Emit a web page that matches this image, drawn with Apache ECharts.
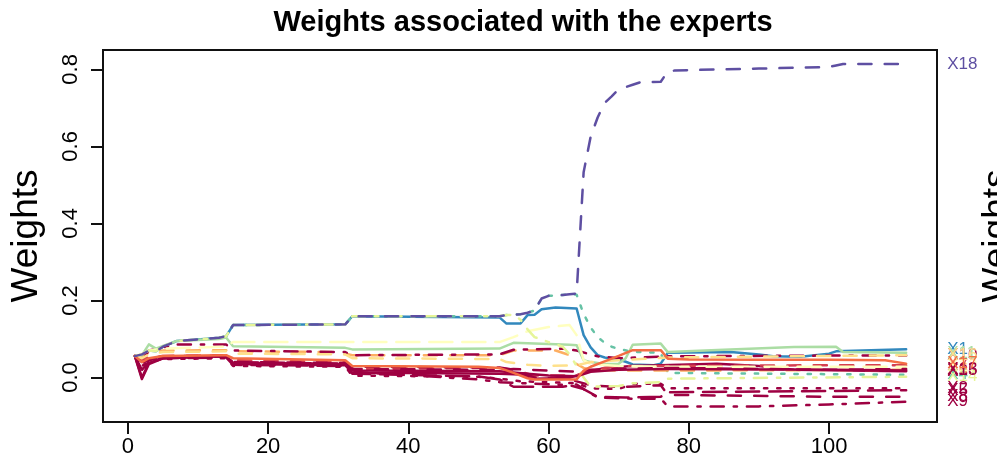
<!DOCTYPE html>
<html>
<head>
<meta charset="utf-8">
<script src="https://cdn.jsdelivr.net/npm/echarts@6/dist/echarts.min.js"></script>
<style>
  html, body { margin: 0; padding: 0; background: #ffffff; }
  #chart { width: 997px; height: 469px; }
</style>
</head>
<body>
<div id="chart"></div>
<script>
// Axis ticks
const xTicks = [0, 20, 40, 60, 80, 100];
const yTicks = [0, 0.2, 0.4, 0.6, 0.8];

// Expert weights over time: [t, weight] at the points where each path bends
const X1 = [[1,.0556],[2,.06],[3,.07],[4,.068],[5,.08],[7,.095],[10,.099],[13,.103],[14,.107],[15,.136],[31,.138],[32,.159],[53,.156],[54,.14],[56,.14],[57,.162],[58,.163],[59,.177],[61,.182],[64,.179],[65,.11],[66,.078],[67,.058],[68,.052],[69,.049],[70,.046],[71,.041],[72,.034],[75,.032],[76,.036],[77,.064],[86,.066],[90,.06],[92,.055],[96,.054],[100,.062],[101,.068],[111,.0735]];
const X2 = [[1,.0556],[2,.03],[3,.04],[5,.048],[14,.05],[15,.03],[31,.028],[32,.005],[50,.002],[53,-.003],[56,-.01],[60,-.012],[64,-.015],[66,-.028],[70,-.03],[72,-.016],[76,-.016],[77,-.028],[111,-.028]];
const X3 = [[1,.0556],[2,-.004],[3,.035],[5,.05],[10,.055],[14,.056],[15,.035],[31,.032],[32,.012],[40,.012],[53,.01],[56,.008],[58,-.003],[63,-.001],[65,.012],[68,.025],[72,.03],[84,.036],[90,.03],[95,.02],[111,.016]];
const X4 = [[1,.0556],[2,.06],[3,.07],[4,.068],[5,.08],[7,.095],[10,.099],[13,.103],[14,.107],[15,.136],[31,.138],[32,.159],[53,.159],[54,.162],[56,.164],[57,.168],[58,.174],[59,.205],[60,.212],[62,.214],[63,.216],[64,.215],[65,.165],[66,.13],[67,.105],[68,.09],[69,.08],[70,.074],[72,.067],[76,.064],[77,.012],[111,.007]];
const X5 = [[1,.0556],[2,.02],[3,.04],[5,.05],[14,.052],[15,.033],[31,.03],[32,.01],[50,.003],[53,-.005],[55,-.024],[62,-.024],[64,-.018],[65,-.03],[67,-.05],[71,-.052],[76,-.05],[77,-.038],[100,-.035],[111,-.033]];
const X6 = [[1,.0556],[2,.055],[3,.064],[5,.07],[14,.071],[15,.068],[30,.066],[32,.058],[53,.058],[55,.07],[61,.07],[63,.058],[64,.035],[65,.025],[66,.02],[70,.018],[77,.018],[111,.02]];
const X7 = [[1,.0556],[2,.048],[3,.052],[5,.056],[14,.058],[15,.045],[31,.04],[32,.022],[53,.025],[55,.02],[58,.005],[64,.005],[66,.02],[70,.03],[77,.03],[100,.032],[111,.032]];
const X8 = [[1,.0556],[2,.04],[3,.05],[5,.055],[14,.057],[15,.04],[31,.038],[32,.028],[53,.026],[55,.02],[58,0],[63,-.005],[64,-.01],[66,-.02],[70,-.025],[76,-.02],[77,-.045],[100,-.05],[111,-.05]];
const X9 = [[1,.0556],[2,.035],[3,.048],[5,.052],[14,.055],[15,.036],[31,.034],[32,.015],[50,-.005],[53,-.012],[58,-.016],[63,-.02],[65,-.03],[67,-.052],[72,-.055],[76,-.055],[77,-.075],[90,-.075],[100,-.07],[111,-.063]];
const X10 = [[1,.0556],[2,.045],[3,.07],[5,.078],[7,.086],[14,.086],[15,.07],[31,.066],[32,.058],[53,.06],[55,.072],[62,.075],[64,.07],[67,.055],[70,.05],[77,.055],[100,.057],[111,.057]];
const X11 = [[1,.0556],[2,.058],[3,.086],[4,.075],[5,.082],[7,.095],[13,.1],[14,.104],[15,.081],[31,.077],[32,.073],[53,.075],[55,.09],[63,.085],[64,.084],[65,.045],[66,.04],[68,.035],[70,.036],[71,.05],[72,.085],[76,.088],[77,.066],[85,.072],[95,.079],[101,.08],[102,.066],[111,.064]];
const X12 = [[1,.0556],[2,.062],[3,.07],[5,.075],[14,.08],[15,.092],[53,.092],[55,.105],[57,.12],[60,.131],[63,.136],[64,.11],[65,.045],[66,.035],[70,.03],[77,.028],[111,.028]];
const X13 = [[1,.0556],[2,.01],[3,.045],[5,.052],[14,.054],[15,.04],[31,.036],[32,.022],[53,.02],[55,.022],[60,.018],[64,.015],[66,.02],[70,.022],[77,.025],[100,.02],[111,.022]];
const X14 = [[1,.0556],[2,.06],[3,.07],[4,.068],[5,.08],[7,.095],[10,.099],[13,.103],[14,.107],[15,.136],[31,.138],[32,.159],[53,.159],[54,.162],[55,.163],[56,.15],[57,.125],[58,.105],[60,.092],[62,.08],[63,.06],[64,.03],[65,0],[66,-.024],[70,-.022],[72,-.015],[76,-.012],[77,-.003],[111,.002]];
const X15 = [[1,.0556],[2,0],[3,.038],[5,.05],[14,.055],[15,.038],[31,.035],[32,.018],[53,.016],[57,.01],[60,.005],[64,.003],[66,.015],[70,.02],[77,.022],[100,.02],[111,.018]];
const X16 = [[1,.0556],[2,.05],[3,.06],[5,.066],[14,.068],[15,.062],[31,.06],[32,.05],[53,.048],[54,.04],[57,.033],[60,.03],[64,.032],[66,.04],[70,.045],[77,.052],[100,.056],[111,.058]];
const X17 = [[1,.0556],[2,.04],[3,.05],[5,.056],[14,.058],[15,.05],[31,.045],[32,.03],[50,.028],[53,.025],[55,.012],[57,-.002],[58,-.005],[64,-.005],[65,.018],[66,.028],[68,.042],[70,.056],[72,.071],[76,.071],[77,.049],[80,.047],[90,.046],[100,.046],[108,.045],[111,.036]];
const X18 = [[1,.0556],[2,.06],[3,.07],[4,.068],[5,.08],[7,.095],[10,.099],[13,.103],[14,.107],[15,.136],[31,.138],[32,.159],[53,.159],[54,.162],[56,.164],[57,.168],[58,.174],[59,.205],[60,.212],[62,.214],[63,.216],[64,.218],[65,.533],[66,.625],[67,.675],[68,.713],[69,.73],[70,.748],[71,.754],[72,.76],[73,.766],[76,.768],[77,.794],[78,.797],[80,.798],[90,.802],[100,.806],[101,.81],[102,.814],[111,.814]];

// R-style line types, in pixels
const U = 3.3;
const LTY = {
  solid: 'solid',
  dashed: [4 * U, 4 * U],
  dotted: [1 * U, 3 * U],
  dotdash: [1 * U, 3 * U, 4 * U, 3 * U],
  longdash: [7 * U, 3 * U]
};

// Spectral palette
const PAL = {
  purple: '#5E4FA2', blue: '#3288BD', teal: '#66C2A5', green: '#ABDDA4',
  yellowgreen: '#E6F598', paleyellow: '#FFFFBF', yellow: '#FEE08B',
  orange: '#FDAE61', orangered: '#F46D43', red: '#D53E4F', darkred: '#9E0142'
};

const experts = [
  { name: 'X1',  data: X1,  color: PAL.blue,        lty: 'solid' },
  { name: 'X2',  data: X2,  color: PAL.darkred,     lty: 'dotted' },
  { name: 'X3',  data: X3,  color: PAL.darkred,     lty: 'solid' },
  { name: 'X4',  data: X4,  color: PAL.teal,        lty: 'dotted' },
  { name: 'X5',  data: X5,  color: PAL.darkred,     lty: 'longdash' },
  { name: 'X6',  data: X6,  color: PAL.orange,      lty: 'dashed' },
  { name: 'X7',  data: X7,  color: PAL.red,         lty: 'dashed' },
  { name: 'X8',  data: X8,  color: PAL.darkred,     lty: 'dashed' },
  { name: 'X9',  data: X9,  color: PAL.darkred,     lty: 'dotdash' },
  { name: 'X10', data: X10, color: PAL.darkred,     lty: 'dotdash' },
  { name: 'X11', data: X11, color: PAL.green,       lty: 'solid' },
  { name: 'X12', data: X12, color: PAL.paleyellow,  lty: 'longdash' },
  { name: 'X13', data: X13, color: PAL.darkred,     lty: 'dashed' },
  { name: 'X14', data: X14, color: PAL.yellowgreen, lty: 'dotdash' },
  { name: 'X15', data: X15, color: PAL.darkred,     lty: 'solid' },
  { name: 'X16', data: X16, color: PAL.yellow,      lty: 'dashed' },
  { name: 'X17', data: X17, color: PAL.orangered,   lty: 'solid' },
  { name: 'X18', data: X18, color: PAL.purple,      lty: 'dashed' }
];

const FONT = '"Liberation Sans", Arial, Helvetica, sans-serif';

const chart = echarts.init(document.getElementById('chart'), null, { renderer: 'canvas' });

chart.setOption({
  backgroundColor: '#ffffff',
  animation: false,
  title: {
    text: 'Weights associated with the experts',
    left: 518,
    top: 3,
    textAlign: 'center',
    textStyle: { fontFamily: FONT, fontWeight: 'bold', fontSize: 29, color: '#000' }
  },
  grid: {
    left: 98, right: 60, top: 50, bottom: 47,
    show: true, borderColor: '#111', borderWidth: 2, backgroundColor: 'transparent'
  },
  xAxis: {
    type: 'value',
    min: -3.55, max: 115.4,
    axisLine: { show: false, onZero: false },
    splitLine: { show: false },
    axisTick: { show: true, customValues: xTicks, length: 12, inside: false,
                lineStyle: { color: '#111', width: 2 } },
    axisLabel: { show: true, customValues: xTicks, margin: 14, color: '#000',
                 fontFamily: FONT, fontSize: 22 }
  },
  yAxis: {
    type: 'value',
    min: -0.1155, max: 0.8502,
    name: 'Weights',
    nameLocation: 'middle',
    nameRotate: 90,
    nameGap: 58,
    nameTextStyle: { fontFamily: FONT, fontSize: 37, color: '#000' },
    axisLine: { show: false, onZero: false },
    splitLine: { show: false },
    axisTick: { show: true, customValues: yTicks, length: 12, inside: false,
                lineStyle: { color: '#111', width: 2 } },
    axisLabel: { show: true, customValues: yTicks, rotate: 90, margin: 21, color: '#000',
                 fontFamily: FONT, fontSize: 22,
                 formatter: v => v.toFixed(1) }
  },
  graphic: [{
    type: 'text',
    x: 998, y: 236,
    rotation: Math.PI / 2,
    style: { text: 'Weights', fontFamily: FONT, fontSize: 37, fill: '#000',
             align: 'center', verticalAlign: 'middle' }
  }],
  series: experts.map(e => ({
    name: e.name,
    type: 'line',
    data: e.data,
    showSymbol: false,
    symbol: 'none',
    clip: false,
    lineStyle: { color: e.color, width: 2.5, type: LTY[e.lty], cap: 'round', join: 'round' },
    endLabel: {
      show: true,
      formatter: e.name,
      distance: 41,
      color: e.color,
      fontFamily: FONT,
      fontSize: 17
    },
    emphasis: { disabled: true }
  }))
});
</script>
</body>
</html>
